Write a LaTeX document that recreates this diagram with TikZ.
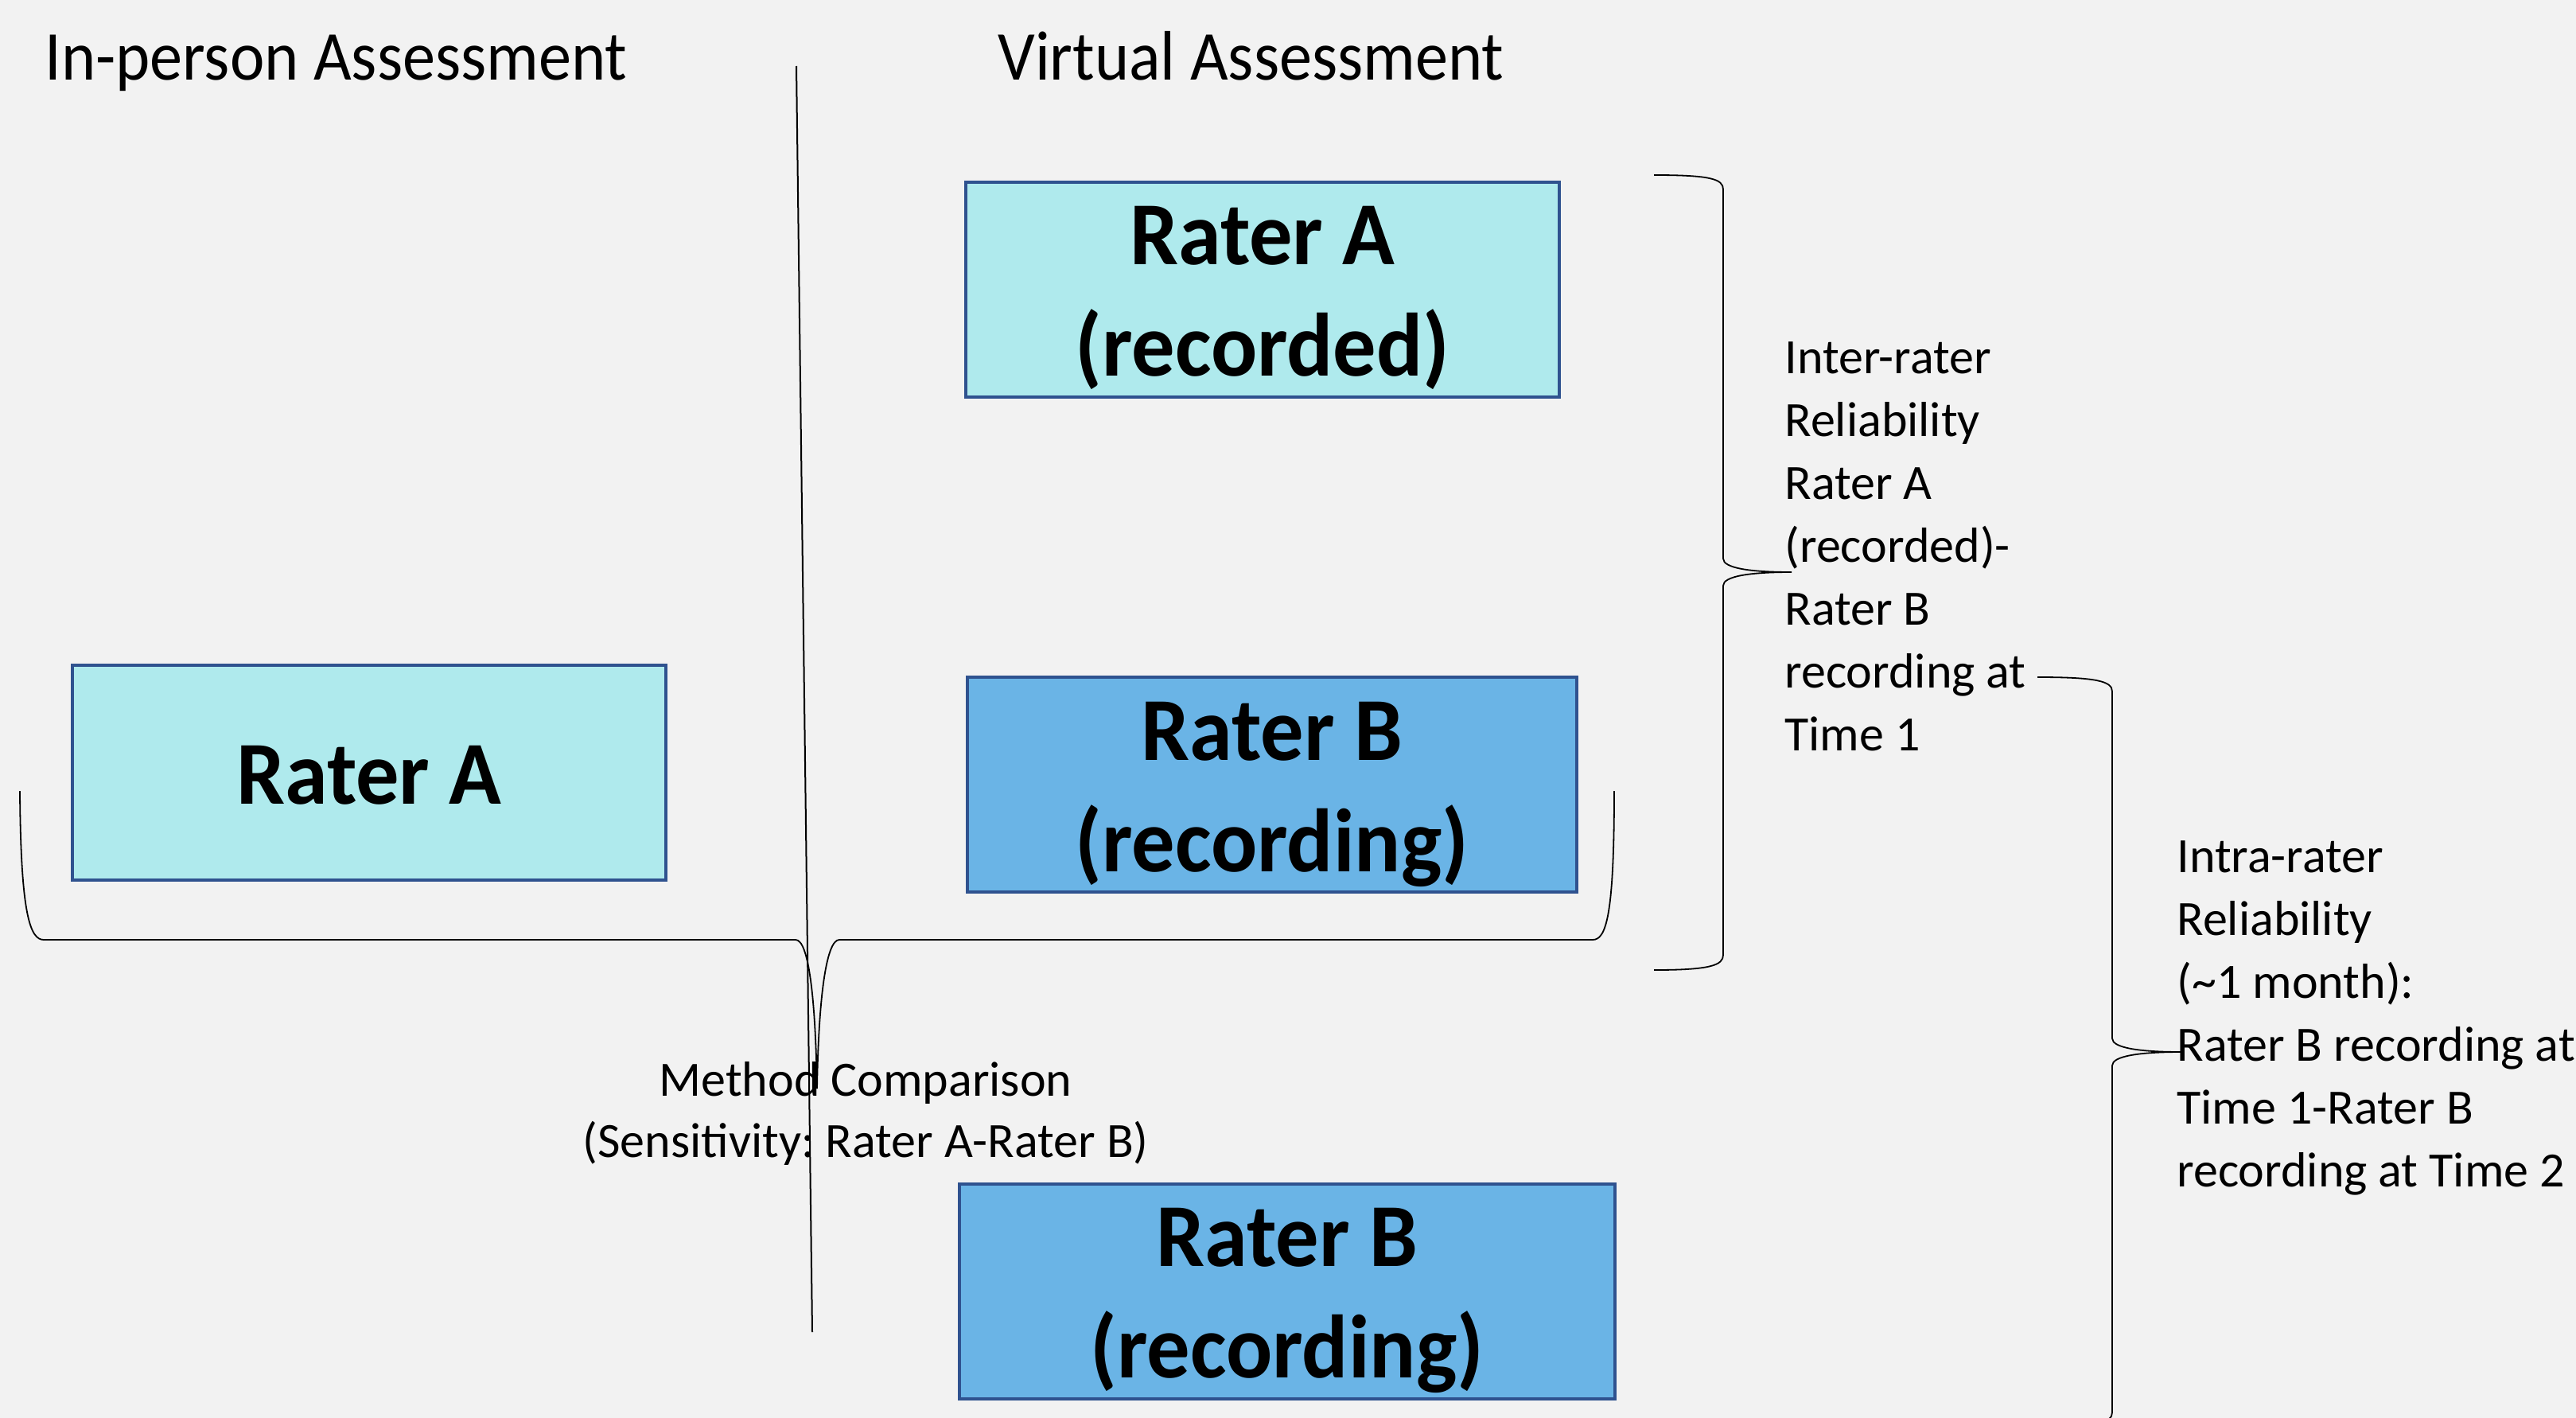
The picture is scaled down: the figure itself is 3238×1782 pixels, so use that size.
\documentclass[tikz,border=0pt]{standalone}
\usepackage{fontspec}
\setmainfont{Carlito}
\newfontfamily\headfont{Carlito}[FakeStretch=0.935]
\newfontfamily\boxfont{Carlito}[FakeStretch=0.96]
\frenchspacing

\definecolor{pagebg}{HTML}{F2F2F2}
\definecolor{aquafill}{HTML}{AFEAED}
\definecolor{bluefill}{HTML}{6AB4E6}
\definecolor{boxedge}{HTML}{2F528F}

\tikzset{
  ratebox/.style={draw=boxedge, line width=2pt, rectangle, inner sep=0pt,
                  minimum height=135pt},
  boxlbl/.style={inner sep=0pt, anchor=base,
                 font=\boxfont\bfseries\fontsize{56.5}{70}\selectfont},
  heading/.style={inner sep=0pt, anchor=base west,
                  font=\headfont\fontsize{44}{53}\selectfont},
  note/.style={inner sep=0pt, font=\frenchspacing\fontsize{31}{39.5}\selectfont},
  brace/.style={draw=black, line width=0.9pt},
  divider/.style={draw=black, line width=1pt}
}

\begin{document}
\begin{tikzpicture}[x=0.5pt, y=-0.5pt]
  % canvas
  \useasboundingbox (0,0) rectangle (3238,1782);
  \fill[pagebg] (0,0) rectangle (3238,1782);
  \clip (0,0) rectangle (3238,1782);

  % column headings
  \node[heading] (hIn) at (56,101) {In-person Assessment};
  \node[heading] (hVi) at (1254,101) {Virtual Assessment};

  % divider between the two settings
  \coordinate (divTop) at (1001,83);
  \coordinate (divBot) at (1021,1674);
  \draw[divider] (divTop) -- (divBot);

  % rater boxes
  \node[ratebox, fill=aquafill, minimum width=373pt] (raL) at (464,971) {};
  \node[boxlbl] (raLt) at ([yshift=-19.5pt]raL.center) {Rater A};

  \node[ratebox, fill=aquafill, minimum width=373pt] (raRec) at (1587,363.5) {};
  \node[boxlbl] (raRect) at ([yshift=15.5pt]raRec.center)
    {\begin{tabular}[t]{@{}c@{}}Rater A\\(recorded)\end{tabular}};

  \node[ratebox, fill=bluefill, minimum width=383pt] (rbOne) at (1599,986) {};
  \node[boxlbl] (rbOnet) at ([yshift=15.5pt]rbOne.center)
    {\begin{tabular}[t]{@{}c@{}}Rater B\\(recording)\end{tabular}};

  \node[ratebox, fill=bluefill, minimum width=412pt] (rbTwo) at (1618,1622.5) {};
  \node[boxlbl] (rbTwot) at ([yshift=15.5pt]rbTwo.center)
    {\begin{tabular}[t]{@{}c@{}}Rater B\\(recording)\end{tabular}};

  % horizontal brace under both settings
  \coordinate (mcL) at (25,994);
  \coordinate (mcTip) at (1027,1368);
  \coordinate (mcR) at (2029,994);
  \draw[brace] (mcL) .. controls (26,1150) and (38,1181) .. (55,1181)
    -- (1000,1181) .. controls (1016,1181) and (1025,1250) .. (mcTip)
    .. controls (1029,1250) and (1039,1181) .. (1055,1181)
    -- (2002,1181) .. controls (2019,1181) and (2029,1150) .. (mcR);

  \node[note, anchor=base] (mcText) at (1088,1377)
    {\fontsize{31}{38.5}\selectfont\begin{tabular}[t]{@{}c@{}}Method Comparison\\(Sensitivity: Rater A-Rater B)\end{tabular}};

  % inter-rater brace
  \coordinate (irTop) at (2079,220);
  \coordinate (irTip) at (2252,719);
  \coordinate (irBot) at (2079,1219);
  \draw[brace] (irTop) .. controls (2150,220) and (2166,225) .. (2166,238)
    -- (2166,702) .. controls (2166,714) and (2200,719) .. (irTip)
    .. controls (2200,719) and (2166,724) .. (2166,736)
    -- (2166,1200) .. controls (2166,1213) and (2150,1219) .. (irBot);

  \node[note, anchor=base west] (irText) at (2243,469)
    {\begin{tabular}[t]{@{}l@{}}Inter-rater\\Reliability\\Rater A\\(recorded)-\\Rater B\\recording at\\Time 1\end{tabular}};

  % intra-rater brace
  \coordinate (taTop) at (2561,851);
  \coordinate (taTip) at (2742,1322);
  \coordinate (taBot) at (2561,1793);
  \draw[brace] (taTop) .. controls (2635,851) and (2655,856) .. (2655,869)
    -- (2655,1305) .. controls (2655,1317) and (2690,1322) .. (taTip)
    .. controls (2690,1322) and (2655,1327) .. (2655,1339)
    -- (2655,1775) .. controls (2655,1788) and (2635,1793) .. (taBot);

  \node[note, anchor=base west] (taText) at (2736,1096)
    {\begin{tabular}[t]{@{}l@{}}Intra-rater\\Reliability\\(\textasciitilde1 month):\\Rater B recording at\\Time 1-Rater B\\recording at Time 2\end{tabular}};
\end{tikzpicture}
\end{document}
